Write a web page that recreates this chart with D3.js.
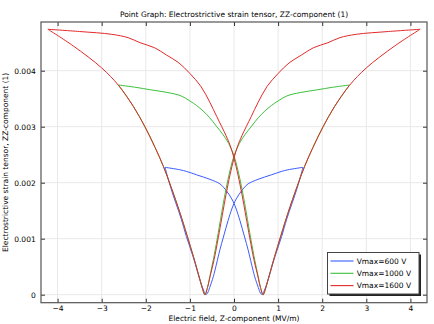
<!DOCTYPE html>
<html><head><meta charset="utf-8">
<script src="https://cdn.jsdelivr.net/npm/d3@7"></script>
<style>body{margin:0;background:#fff}svg{display:block}text{font-family:"DejaVu Sans",sans-serif;fill:#000}</style>
</head><body><svg id="c" width="434" height="324"></svg>
<script>
const title = "Point Graph: Electrostrictive strain tensor, ZZ-component (1)";
const xLabel = "Electric field, Z-component (MV/m)";
const yLabel = "Electrostrictive strain tensor, ZZ-component (1)";
const xTicks = [-4, -3, -2, -1, 0, 1, 2, 3, 4];
const yTicks = [0, 0.001, 0.002, 0.003, 0.004];
const seriesNames = ["Vmax=600 V", "Vmax=1000 V", "Vmax=1600 V"];
const seriesColors = ["#3a5cff", "#3cc03c", "#e22a2a"];

// Vmax=600 V : field sweep up, then sweep down
const blueUpE = [-1.565, -1.22, -1.07, -0.846, -0.544, -0.32, -0.24, -0.166, -0.05, 0, 0.05, 0.136, 0.24, 0.32, 0.43, 0.47, 0.55, 0.6, 0.64, 0.7, 0.77, 0.92, 1.08, 1.2, 1.43, 1.565];
const blueUpS = [0.002275, 0.00223, 0.0022, 0.00214, 0.00206, 0.00198, 0.00192, 0.00185, 0.00171, 0.00163, 0.00153, 0.00132, 0.00103, 0.0008, 0.00044, 0.00032, 0.00013, 0.00003, 0, 0.0001, 0.00026, 0.00066, 0.00104, 0.00136, 0.0019, 0.002275];
const blueDownE = [1.565, 1.22, 1.07, 0.846, 0.544, 0.32, 0.24, 0.166, 0.05, 0, -0.05, -0.136, -0.24, -0.32, -0.43, -0.47, -0.55, -0.6, -0.64, -0.7, -0.77, -0.92, -1.08, -1.2, -1.43, -1.565];
const blueDownS = [0.002275, 0.00223, 0.0022, 0.00214, 0.00206, 0.00198, 0.00192, 0.00185, 0.00171, 0.00163, 0.00153, 0.00132, 0.00103, 0.0008, 0.00044, 0.00032, 0.00013, 0.00003, 0, 0.0001, 0.00026, 0.00066, 0.00104, 0.00136, 0.0019, 0.002275];

// Vmax=1000 V
const greenUpE = [-2.62, -2.2, -1.9, -1.5, -1.2, -1.0, -0.85, -0.7, -0.55, -0.4, -0.25, -0.12, 0, 0.09, 0.18, 0.256, 0.356, 0.45, 0.544, 0.6, 0.66, 0.72, 0.77, 0.92, 1.22, 1.43, 1.6, 1.79, 2.02, 2.28, 2.62];
const greenUpS = [0.003745, 0.0037, 0.00366, 0.00361, 0.00355, 0.00346, 0.00338, 0.00328, 0.00316, 0.00301, 0.00286, 0.0027, 0.00248, 0.00222, 0.00189, 0.00157, 0.00111, 0.0007, 0.00034, 0.00013, 0, 0.00012, 0.00026, 0.00068, 0.00145, 0.00193, 0.00229, 0.00263, 0.003, 0.00336, 0.003745];
const greenDownE = [2.62, 2.2, 1.9, 1.5, 1.2, 1.0, 0.85, 0.7, 0.55, 0.4, 0.25, 0.12, 0, -0.09, -0.18, -0.256, -0.356, -0.45, -0.544, -0.6, -0.66, -0.72, -0.77, -0.92, -1.22, -1.43, -1.6, -1.79, -2.02, -2.28, -2.62];
const greenDownS = [0.003745, 0.0037, 0.00366, 0.00361, 0.00355, 0.00346, 0.00338, 0.00328, 0.00316, 0.00301, 0.00286, 0.0027, 0.00248, 0.00222, 0.00189, 0.00157, 0.00111, 0.0007, 0.00034, 0.00013, 0, 0.00012, 0.00026, 0.00068, 0.00145, 0.00193, 0.00229, 0.00263, 0.003, 0.00336, 0.003745];

// Vmax=1600 V
const redUpE = [-4.22, -3.5, -2.77, -2.4, -2.13, -1.8, -1.53, -1.25, -1.0, -0.75, -0.544, -0.39, -0.18, -0.09, 0, 0.09, 0.18, 0.356, 0.45, 0.544, 0.6, 0.66, 0.72, 0.77, 0.92, 1.22, 1.43, 1.6, 1.79, 2.02, 2.28, 2.62, 3.0, 3.64, 4.22];
const redUpS = [0.00474, 0.0047, 0.00465, 0.00459, 0.0045, 0.00441, 0.00428, 0.00414, 0.00395, 0.00372, 0.00343, 0.00318, 0.00284, 0.00267, 0.00244, 0.00214, 0.00179, 0.00102, 0.00063, 0.00032, 0.00013, 0, 0.00012, 0.00026, 0.00068, 0.00145, 0.00193, 0.00229, 0.00263, 0.003, 0.00336, 0.00374, 0.00405, 0.00444, 0.00474];
const redDownE = [4.22, 3.5, 2.77, 2.4, 2.13, 1.8, 1.53, 1.25, 1.0, 0.75, 0.544, 0.39, 0.18, 0.09, 0, -0.09, -0.18, -0.356, -0.45, -0.544, -0.6, -0.66, -0.72, -0.77, -0.92, -1.22, -1.43, -1.6, -1.79, -2.02, -2.28, -2.62, -3.0, -3.64, -4.22];
const redDownS = [0.00474, 0.0047, 0.00465, 0.00459, 0.0045, 0.00441, 0.00428, 0.00414, 0.00395, 0.00372, 0.00343, 0.00318, 0.00284, 0.00267, 0.00244, 0.00214, 0.00179, 0.00102, 0.00063, 0.00032, 0.00013, 0, 0.00012, 0.00026, 0.00068, 0.00145, 0.00193, 0.00229, 0.00263, 0.003, 0.00336, 0.00374, 0.00405, 0.00444, 0.00474];

const svg = d3.select("#c");
const L = 41, R = 427, T = 22, B = 302.7;
const FS = 7.5;
const x = d3.scaleLinear().domain([-4.376, 4.376]).range([L, R]);
const y = d3.scaleLinear().domain([-0.000143, 0.00487]).range([B, T]);

// grid
const g = svg.append("g");
g.selectAll(".gx").data(xTicks).enter().append("line")
  .attr("x1", d => x(d)).attr("x2", d => x(d)).attr("y1", T).attr("y2", B)
  .attr("stroke", "#e8e8e8").attr("stroke-width", 1);
g.selectAll(".gy").data(yTicks).enter().append("line")
  .attr("y1", d => y(d)).attr("y2", d => y(d)).attr("x1", L).attr("x2", R)
  .attr("stroke", "#e8e8e8").attr("stroke-width", 1);

// axes with inward ticks
const fmtY = d => d === 0 ? "0" : d3.format(".3f")(d);
const axB = svg.append("g").attr("transform", `translate(0,${B})`)
  .call(d3.axisBottom(x).tickValues(xTicks).tickSize(-4).tickPadding(3.2).tickFormat(d3.format("d")));
const axT = svg.append("g").attr("transform", `translate(0,${T})`)
  .call(d3.axisTop(x).tickValues(xTicks).tickSize(-4).tickFormat(""));
const axL = svg.append("g").attr("transform", `translate(${L},0)`)
  .call(d3.axisLeft(y).tickValues(yTicks).tickSize(-4).tickPadding(5.3).tickFormat(fmtY));
const axR = svg.append("g").attr("transform", `translate(${R},0)`)
  .call(d3.axisRight(y).tickValues(yTicks).tickSize(-4).tickFormat(""));
[axB, axT, axL, axR].forEach(a => {
  a.select(".domain").remove();
  a.selectAll(".tick line").attr("stroke", "#333");
  a.selectAll("text").attr("font-size", FS).attr("font-family", "DejaVu Sans").attr("fill", "#000");
});

// curves: each sweep branch drawn as a smooth curve, branches meet at the sharp turning points
const line = d3.line().x(d => x(d[0])).y(d => y(d[1])).curve(d3.curveCatmullRom.alpha(0.5));
const series = [
  [blueUpE, blueUpS, blueDownE, blueDownS],
  [greenUpE, greenUpS, greenDownE, greenDownS],
  [redUpE, redUpS, redDownE, redDownS]
];
svg.append("clipPath").attr("id", "pc").append("rect")
  .attr("x", L).attr("y", T).attr("width", R - L).attr("height", B - T);
series.forEach((s, i) => {
  [[s[0], s[1]], [s[2], s[3]]].forEach(br => {
    const pts = br[0].map((e, k) => [e, br[1][k]]);
    svg.append("path").attr("d", line(pts)).attr("fill", "none")
      .attr("stroke", seriesColors[i]).attr("stroke-width", 1)
      .attr("stroke-linejoin", "round").attr("clip-path", "url(#pc)");
  });
});

// frame
svg.append("rect").attr("x", L).attr("y", T).attr("width", R - L).attr("height", B - T)
  .attr("fill", "none").attr("stroke", "#555").attr("stroke-width", 1.2);

// title & labels
svg.append("text").attr("x", (L + R) / 2).attr("y", 17).attr("text-anchor", "middle")
  .attr("font-size", FS).text(title);
svg.append("text").attr("x", (L + R) / 2).attr("y", 320.8).attr("text-anchor", "middle")
  .attr("font-size", FS).text(xLabel);
svg.append("text").attr("transform", `translate(8.3,${(T + B) / 2}) rotate(-90)`).attr("text-anchor", "middle")
  .attr("font-size", FS).text(yLabel);

// legend
const lg = svg.append("g");
const lx = 327.5, ly = 252.5, lw = 91.5, lh = 41.5;
lg.append("rect").attr("x", lx + 2).attr("y", ly + 2).attr("width", lw).attr("height", lh).attr("fill", "#222");
lg.append("rect").attr("x", lx).attr("y", ly).attr("width", lw).attr("height", lh)
  .attr("fill", "#fff").attr("stroke", "#444").attr("stroke-width", 1);
seriesNames.forEach((n, i) => {
  const yy = 261 + i * 12.3;
  lg.append("line").attr("x1", 330.5).attr("x2", 353.5).attr("y1", yy).attr("y2", yy)
    .attr("stroke", seriesColors[i]).attr("stroke-width", 1.1);
  lg.append("text").attr("x", 356.7).attr("y", yy + 2.8).attr("font-size", FS).text(n);
});
</script></body></html>
